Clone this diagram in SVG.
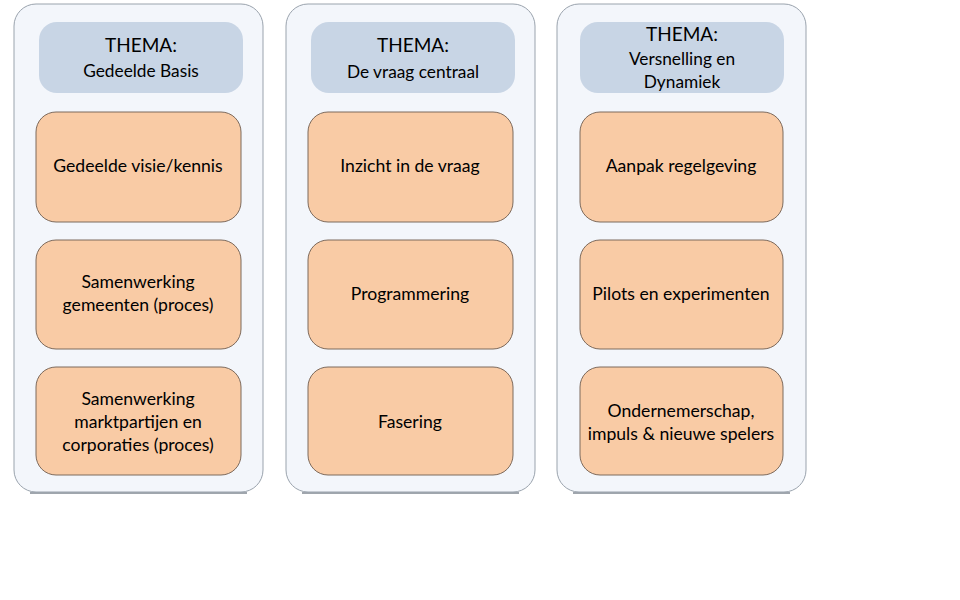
<svg xmlns="http://www.w3.org/2000/svg" width="960" height="600" viewBox="0 0 960 600">
<style>
.col{fill:#f3f6fb;stroke:#9aa3ad;stroke-width:1}
.sh{stroke:#a0a6ad;stroke-width:2}
.hd{fill:#c8d5e5;stroke:none}
.bx{fill:#f9cba5;stroke:#7d6a5c;stroke-width:1}
text{font-family:Lato,"Open Sans","Liberation Sans",sans-serif;fill:#000;text-anchor:middle}
.t1{font-size:19px}
.t2{font-size:17.3px}
.t3{font-size:17.6px}
</style>
<rect width="960" height="600" fill="#fff"/>
<g id="col1">
<line class="sh" x1="30" y1="493" x2="247" y2="493"/>
<rect class="col" x="14" y="4" width="249" height="488" rx="22"/>
<rect class="hd" x="39" y="22" width="204" height="71" rx="18"/>
<text class="t1" x="141" y="52">THEMA:</text>
<text class="t2" x="141" y="77">Gedeelde Basis</text>
</g>
<g id="col2">
<line class="sh" x1="302" y1="493" x2="519" y2="493"/>
<rect class="col" x="286" y="4" width="249" height="488" rx="22"/>
<rect class="hd" x="311" y="22" width="204" height="71" rx="18"/>
<text class="t1" x="413" y="52">THEMA:</text>
<text class="t2" x="413" y="78">De vraag centraal</text>
</g>
<g id="col3">
<line class="sh" x1="573" y1="493" x2="790" y2="493"/>
<rect class="col" x="557" y="4" width="249" height="488" rx="22"/>
<rect class="hd" x="580" y="22" width="204" height="71" rx="18"/>
<text class="t1" x="682" y="41">THEMA:</text>
<text class="t2" x="682" y="65">Versnelling en</text>
<text class="t2" x="682" y="88">Dynamiek</text>
</g>
<g id="n1"><rect class="bx" x="36" y="112" width="205" height="110" rx="20"/><text class="t3" x="138" y="172">Gedeelde visie/kennis</text></g>
<g id="n2"><rect class="bx" x="36" y="240" width="205" height="109" rx="20"/><text class="t3" x="138" y="288">Samenwerking</text><text class="t3" x="138" y="311">gemeenten (proces)</text></g>
<g id="n3"><rect class="bx" x="36" y="367" width="205" height="108" rx="20"/><text class="t3" x="138" y="405">Samenwerking</text><text class="t3" x="138" y="428">marktpartijen en</text><text class="t3" x="138" y="451">corporaties (proces)</text></g>
<g id="n4"><rect class="bx" x="308" y="112" width="205" height="110" rx="20"/><text class="t3" x="410" y="172">Inzicht in de vraag</text></g>
<g id="n5"><rect class="bx" x="308" y="240" width="205" height="109" rx="20"/><text class="t3" x="410" y="300">Programmering</text></g>
<g id="n6"><rect class="bx" x="308" y="367" width="205" height="108" rx="20"/><text class="t3" x="410" y="428">Fasering</text></g>
<g id="n7"><rect class="bx" x="580" y="112" width="203" height="110" rx="20"/><text class="t3" x="681" y="172">Aanpak regelgeving</text></g>
<g id="n8"><rect class="bx" x="580" y="240" width="203" height="109" rx="20"/><text class="t3" x="681" y="300">Pilots en experimenten</text></g>
<g id="n9"><rect class="bx" x="580" y="367" width="203" height="108" rx="20"/><text class="t3" x="681" y="417">Ondernemerschap,</text><text class="t3" x="681" y="440">impuls &amp; nieuwe spelers</text></g>
<g id="connectors"/>
</svg>
